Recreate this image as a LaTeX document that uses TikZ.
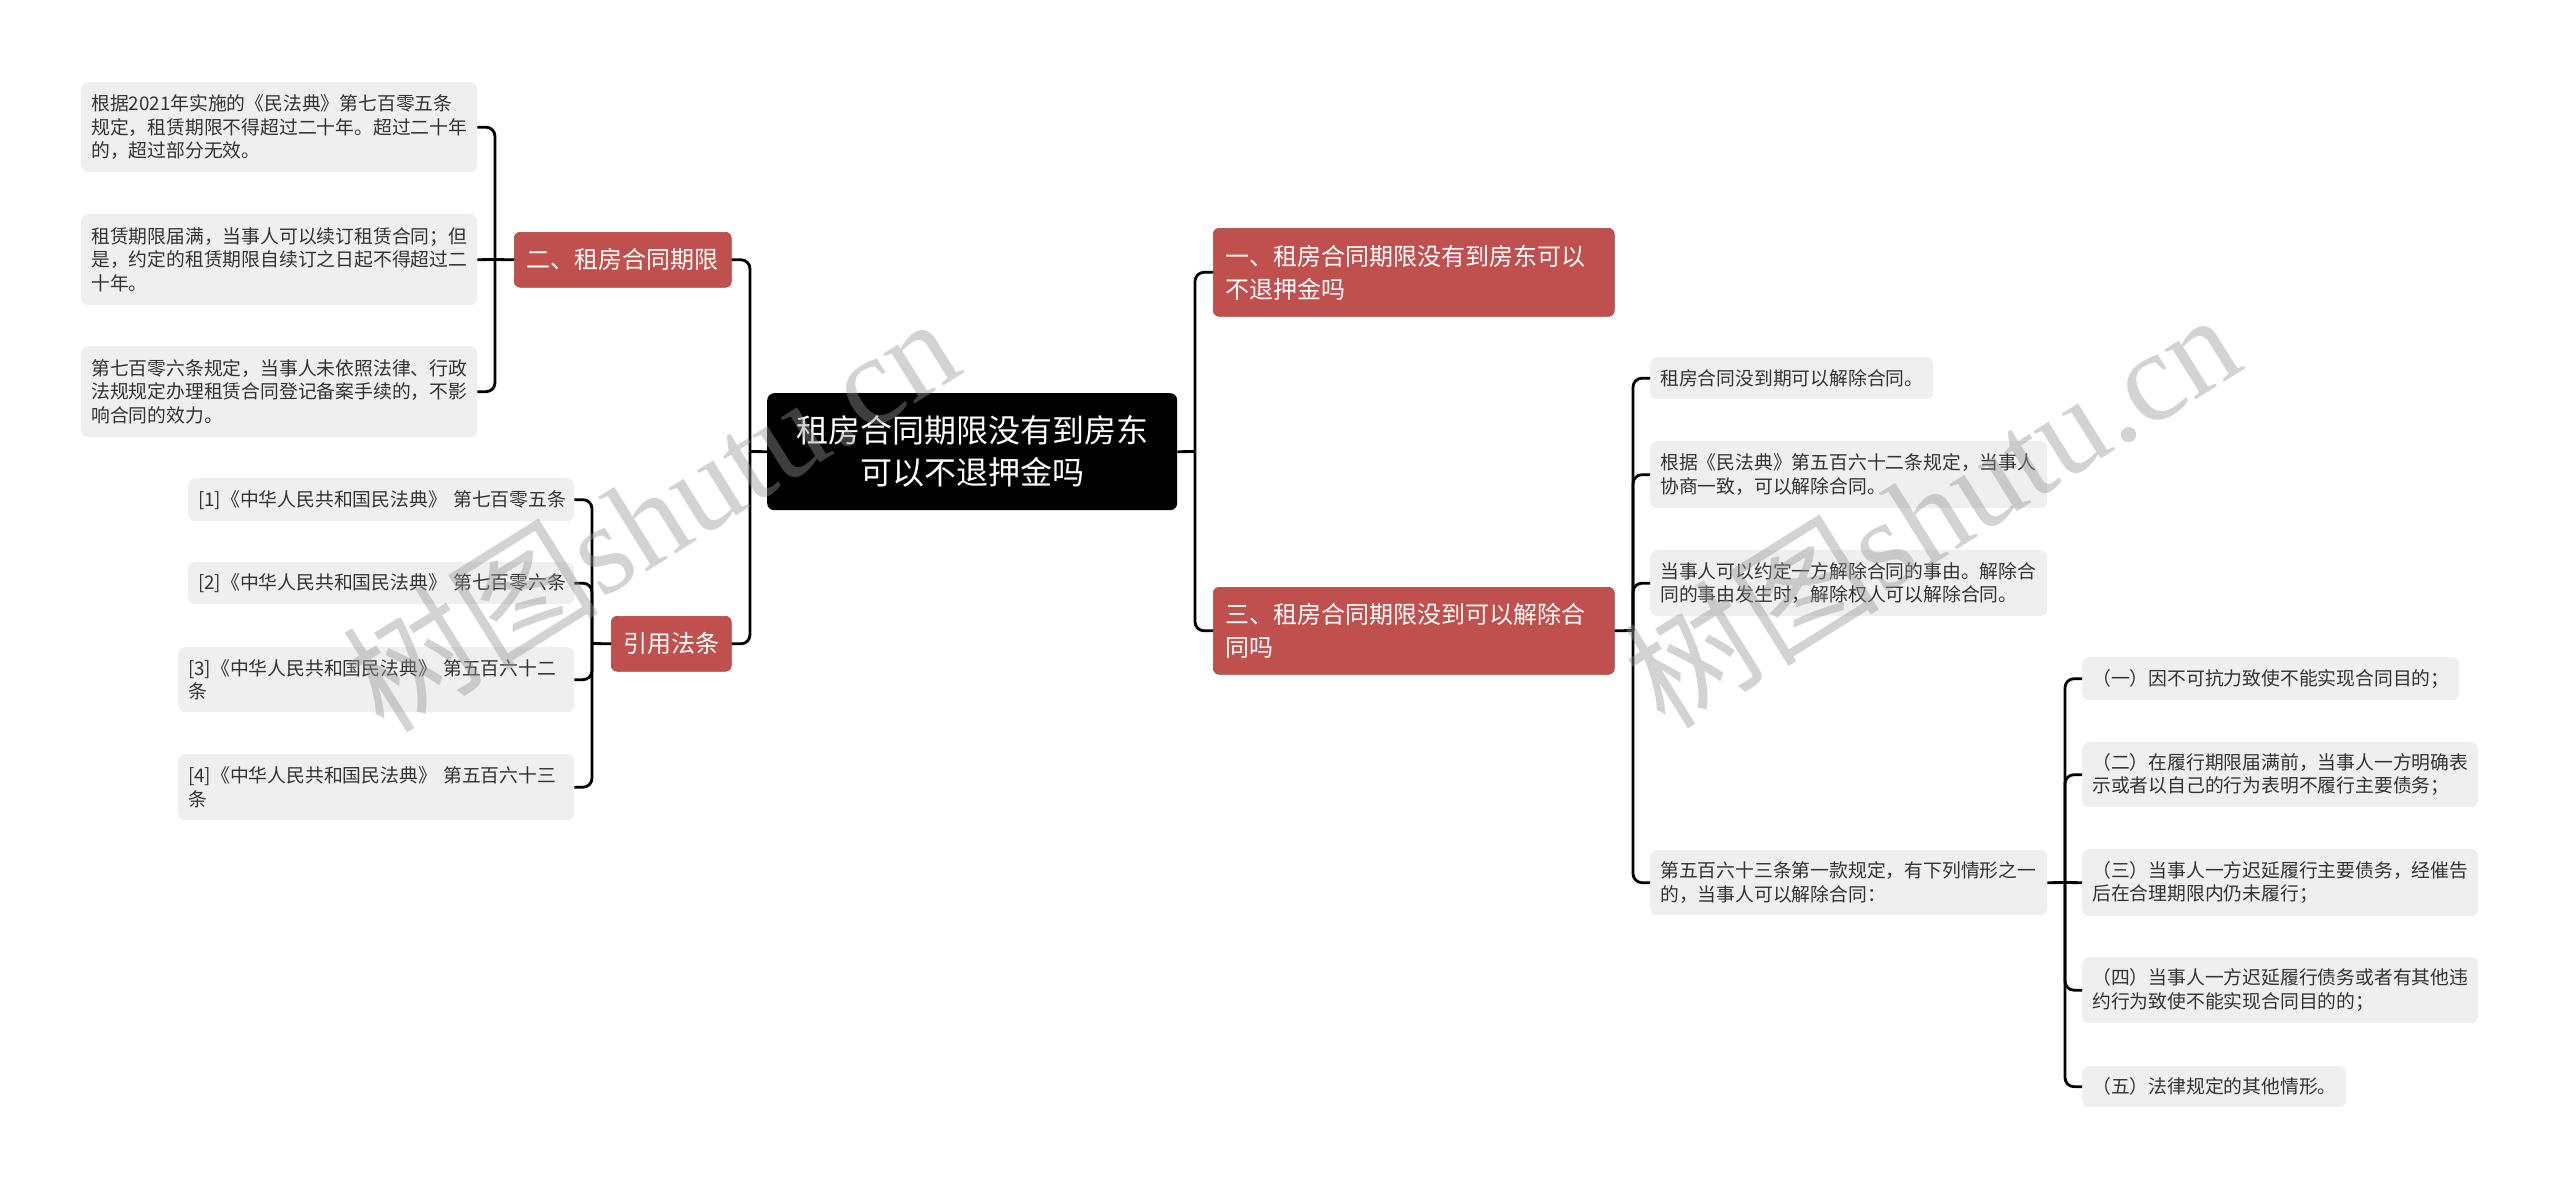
\documentclass[tikz,border=0pt]{standalone}
\usepackage{fontspec}
\setmainfont{Noto Sans CJK SC}
\newfontfamily\wmserif{Liberation Serif}
\definecolor{redbox}{RGB}{192,80,77}
\definecolor{graybox}{RGB}{239,239,239}
\definecolor{txtgray}{RGB}{51,51,51}
\definecolor{wmgray}{RGB}{150,150,150}
\tikzset{
  leaf/.style={fill=graybox, rounded corners=7pt, text=txtgray,
    font=\fontsize{18.8}{23.5}\selectfont, align=left,
    inner xsep=10pt, inner ysep=0pt, anchor=north west},
  topic/.style={fill=redbox, draw=redbox!85!black, line width=0.6pt, rounded corners=6pt, text=white,
    font=\fontsize{24}{33}\selectfont, align=left,
    inner xsep=12pt, inner ysep=0pt, anchor=north west},
  rootbox/.style={fill=black, rounded corners=7pt, text=white,
    font=\fontsize{32}{42}\selectfont, align=center,
    inner xsep=20pt, inner ysep=0pt, anchor=north west},
  conn/.style={line width=2.8pt, draw=black, rounded corners=9pt},
  wmark/.style={text=wmgray, opacity=0.42, rotate=32,
    font=\fontsize{128}{128}\selectfont}
}
\begin{document}
\begin{tikzpicture}[x=1pt,y=-1pt]
\useasboundingbox (0,0) rectangle (2560,1189);
% root
\node[rootbox, text width=370pt, minimum height=117pt] (root) at (767,393) {租房合同期限没有到房东\\可以不退押金吗};
% level 1
\node[topic, text width=193pt, minimum height=55pt] (n2) at (514,232) {二、租房合同期限};
\node[topic, text width=96pt, minimum height=55pt] (nref) at (611,616) {引用法条};
\node[topic, text width=377pt, minimum height=88pt] (n1) at (1213,228) {一、租房合同期限没有到房东可以\\不退押金吗};
\node[topic, text width=377pt, minimum height=87pt] (n3) at (1213,587) {三、租房合同期限没到可以解除合\\同吗};
% left leaves
\node[leaf, text width=376pt, minimum height=90pt] (l1) at (81,82) {根据2021年实施的《民法典》第七百零五条\\规定，租赁期限不得超过二十年。超过二十年\\的，超过部分无效。};
\node[leaf, text width=376pt, minimum height=91pt] (l2) at (81,214) {租赁期限届满，当事人可以续订租赁合同；但\\是，约定的租赁期限自续订之日起不得超过二\\十年。};
\node[leaf, text width=376pt, minimum height=91pt] (l3) at (81,346) {第七百零六条规定，当事人未依照法律、行政\\法规规定办理租赁合同登记备案手续的，不影\\响合同的效力。};
% references
\node[leaf, text width=366pt, minimum height=43pt] (r1) at (188,478) {[1]《中华人民共和国民法典》~第七百零五条};
\node[leaf, text width=366pt, minimum height=42pt] (r2) at (188,562) {[2]《中华人民共和国民法典》~第七百零六条};
\node[leaf, text width=376pt, minimum height=65pt] (r3) at (178,647) {[3]《中华人民共和国民法典》~第五百六十二\\条};
\node[leaf, text width=376pt, minimum height=66pt] (r4) at (178,754) {[4]《中华人民共和国民法典》~第五百六十三\\条};
% right leaves
\node[leaf, text width=263pt, minimum height=42pt] (c1) at (1650,357) {租房合同没到期可以解除合同。};
\node[leaf, text width=377pt, minimum height=67pt] (c2) at (1650,441) {根据《民法典》第五百六十二条规定，当事人\\协商一致，可以解除合同。};
\node[leaf, text width=377pt, minimum height=66pt] (c3) at (1650,550) {当事人可以约定一方解除合同的事由。解除合\\同的事由发生时，解除权人可以解除合同。};
\node[leaf, text width=377pt, minimum height=65pt] (c4) at (1650,850) {第五百六十三条第一款规定，有下列情形之一\\的，当事人可以解除合同：};
\node[leaf, text width=357pt, minimum height=43pt] (d1) at (2082,657) {（一）因不可抗力致使不能实现合同目的；};
\node[leaf, text width=376pt, minimum height=65pt] (d2) at (2082,742) {（二）在履行期限届满前，当事人一方明确表\\示或者以自己的行为表明不履行主要债务；};
\node[leaf, text width=376pt, minimum height=67pt] (d3) at (2082,849) {（三）当事人一方迟延履行主要债务，经催告\\后在合理期限内仍未履行；};
\node[leaf, text width=376pt, minimum height=66pt] (d4) at (2082,957) {（四）当事人一方迟延履行债务或者有其他违\\约行为致使不能实现合同目的的；};
\node[leaf, text width=244pt, minimum height=41pt] (d5) at (2082,1066) {（五）法律规定的其他情形。};
% junction coordinates
\coordinate (jL) at (750,451.5);
\coordinate (jR) at (1195,451.5);
\coordinate (jA) at (495,259.5);
\coordinate (jB) at (592,643.5);
\coordinate (jC) at (1633,630.5);
\coordinate (jD) at (2065,882.5);
% connectors
\draw[conn] (root.west) -- (jL);
\draw[conn] (jL) |- (n2.east);
\draw[conn] (jL) |- (nref.east);
\draw[conn] (root.east) -- (jR);
\draw[conn] (jR) |- (n1.west);
\draw[conn] (jR) |- (n3.west);
\draw[conn] (n2.west) -- (jA);
\draw[conn] (jA) |- (l1.east);
\draw[conn] (jA) -- (l2.east);
\draw[conn] (jA) |- (l3.east);
\draw[conn] (nref.west) -- (jB);
\draw[conn] (jB) |- (r1.east);
\draw[conn] (jB) |- (r2.east);
\draw[conn] (jB) |- (r3.east);
\draw[conn] (jB) |- (r4.east);
\draw[conn] (n3.east) -- (jC);
\draw[conn] (jC) |- (c1.west);
\draw[conn] (jC) |- (c2.west);
\draw[conn] (jC) |- (c3.west);
\draw[conn] (jC) |- (c4.west);
\draw[conn] (c4.east) -- (jD);
\draw[conn] (jD) |- (d1.west);
\draw[conn] (jD) |- (d2.west);
\draw[conn] (jD) -- (d3.west);
\draw[conn] (jD) |- (d4.west);
\draw[conn] (jD) |- (d5.west);
% watermarks
\node[wmark] (wm1) at (650,512) {树图{\wmserif shutu.cn}};
\node[wmark] (wm2) at (1931,508) {树图{\wmserif shutu.cn}};
\end{tikzpicture}
\end{document}
